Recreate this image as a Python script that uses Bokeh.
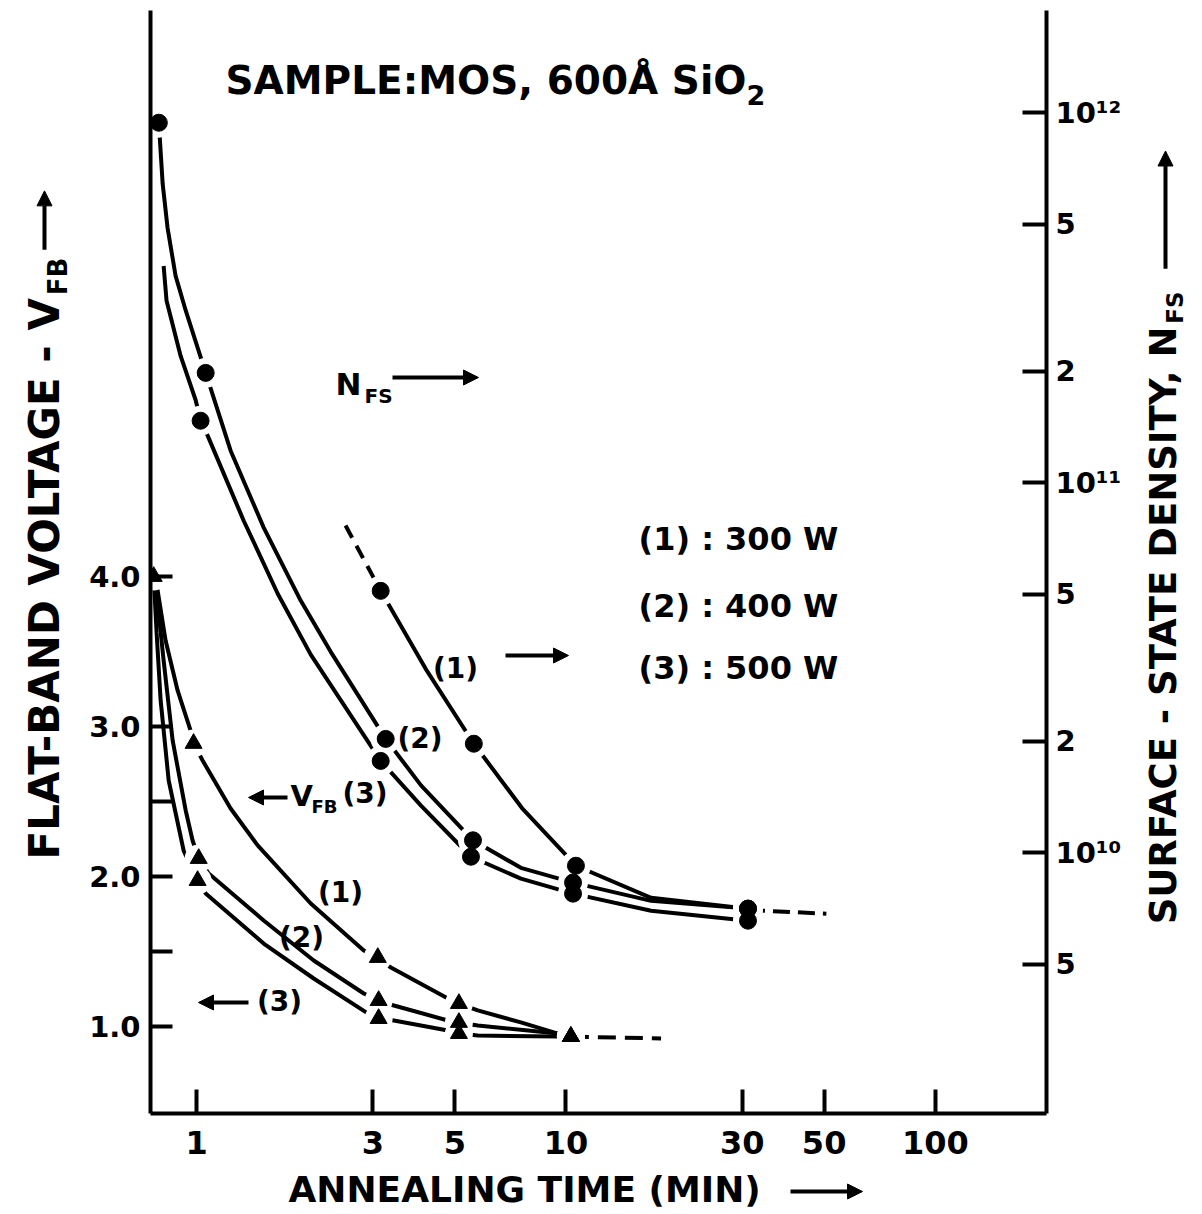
import numpy as np
from bokeh.plotting import figure
from bokeh.layouts import row, column
from bokeh.models import Range1d, LogAxis, FixedTicker, Label, Arrow, NormalHead, LogScale
from bokeh.embed import file_html
from bokeh.resources import INLINE

# ---------------- data ----------------
time_ticks = [1, 3, 5, 10, 30, 50, 100]
time_tick_labels = ["1", "3", "5", "10", "30", "50", "100"]
vfb_ticks = [1.0, 1.5, 2.0, 2.5, 3.0, 4.0]
vfb_tick_labels = ["1.0", "", "2.0", "", "3.0", "4.0"]
nfs_ticks = [5e9, 1e10, 2e10, 5e10, 1e11, 2e11, 5e11, 1e12]
nfs_tick_labels = ["5", "10¹⁰", "2", "5", "10¹¹", "2", "5", "10¹²"]

# surface-state density, measured points (circles)
nfs1_t = [3.15, 5.63, 10.64, 31.1]
nfs1_n = [5.10e10, 1.97e10, 9.22e9, 7.06e9]
nfs2_t = [0.79, 1.058, 3.25, 5.60, 10.45, 31.1]
nfs2_n = [9.39e11, 1.98e11, 2.03e10, 1.08e10, 8.30e9, 7.06e9]
nfs3_t = [1.025, 3.15, 5.53, 10.45, 31.1]
nfs3_n = [1.47e11, 1.77e10, 9.75e9, 7.75e9, 6.55e9]

# surface-state density, drawn curves (traced)
nfs1_curve_t = [3.15, 4.17, 5.63, 7.60, 10.64, 17.0, 31.1]
nfs1_curve_n = [5.10e10, 3.14e10, 1.97e10, 1.32e10, 9.22e9, 7.55e9, 7.06e9]
nfs1_dash_t = [2.53, 3.15]
nfs1_dash_n = [7.66e10, 5.10e10]
nfs_tail_t = [31.1, 50.7]
nfs_tail_n = [7.0e9, 6.84e9]
nfs2_curve_t = [0.79, 0.809, 0.834, 0.877, 0.934, 1.058, 1.236, 1.519, 1.913, 2.307,
                3.25, 4.05, 5.60, 7.55, 10.45, 17.0, 31.1]
nfs2_curve_n = [9.39e11, 6.43e11, 4.89e11, 3.62e11, 2.92e11, 1.98e11, 1.22e11, 7.56e10,
                4.80e10, 3.49e10, 2.03e10, 1.52e10, 1.08e10, 9.10e9, 8.30e9, 7.41e9, 7.06e9]
nfs3_curve_t = [0.814, 0.829, 0.905, 0.994, 1.025, 1.071, 1.341, 1.658, 2.037, 3.15,
                4.05, 5.53, 7.55, 10.45, 17.0, 31.1]
nfs3_curve_n = [3.85e11, 3.10e11, 2.20e11, 1.67e11, 1.47e11, 1.34e11, 7.89e10, 5.01e10,
                3.43e10, 1.77e10, 1.34e10, 9.75e9, 8.51e9, 7.75e9, 6.97e9, 6.55e9]

# flat-band voltage, measured points (triangles)
vfb_start_t = [0.765]
vfb_start_v = [4.0]
vfb1_t = [0.981, 3.094, 5.13, 10.31]
vfb1_v = [2.887, 1.46, 1.153, 0.933]
vfb2_t = [1.013, 3.11, 5.13, 10.31]
vfb2_v = [2.12, 1.173, 1.027, 0.933]
vfb3_t = [1.006, 3.11, 5.13, 10.31]
vfb3_v = [1.973, 1.053, 0.953, 0.933]

# flat-band voltage, drawn curves (traced)
vfb1_curve_t = [0.765, 0.784, 0.824, 0.888, 0.963, 0.981, 1.038, 1.236, 1.463, 2.037, 2.835,
                3.094, 3.357, 4.79, 5.13, 5.77, 7.55, 9.51, 10.31]
vfb1_curve_v = [4.0, 3.907, 3.573, 3.24, 2.973, 2.887, 2.773, 2.453, 2.207, 1.82, 1.507,
                1.46, 1.393, 1.187, 1.153, 1.107, 1.027, 0.953, 0.933]
vfb2_curve_t = [0.765, 0.789, 0.814, 0.861, 0.934, 0.975, 1.013, 1.078, 1.519, 2.075, 2.835,
                3.11, 3.42, 4.79, 5.13, 5.77, 9.51, 10.31]
vfb2_curve_v = [4.0, 3.76, 3.44, 2.907, 2.44, 2.24, 2.12, 2.02, 1.707, 1.44, 1.22,
                1.173, 1.14, 1.04, 1.027, 1.007, 0.953, 0.933]
vfb3_curve_t = [0.765, 0.779, 0.799, 0.840, 0.922, 1.006, 1.058, 1.519, 2.075, 2.906,
                3.11, 3.42, 4.79, 5.13, 5.77, 9.51, 10.31]
vfb3_curve_v = [4.0, 3.627, 3.173, 2.64, 2.173, 1.973, 1.887, 1.553, 1.32, 1.087,
                1.053, 1.04, 0.973, 0.953, 0.94, 0.933, 0.933]
vfb_tail_t = [10.31, 18.09]
vfb_tail_v = [0.933, 0.92]

# ---------------- layout ----------------
X0, X1 = 0.75, 200.0
V0, V1 = 0.42, 7.773
N0, N1 = 1.973e9, 1.888e12
FONT = "DejaVu Sans"

LEFT_W, MAIN_W, RIGHT_W = 83, 1047, 64
MAIN_H, BOTTOM_H = 1162, 50

p = figure(width=MAIN_W, height=MAIN_H, x_axis_type="log",
           x_range=Range1d(X0, X1), y_range=Range1d(V0, V1),
           output_backend="svg", toolbar_location=None,
           min_border_left=67, min_border_right=84,
           min_border_top=10, min_border_bottom=MAIN_H - 1113)
p.outline_line_color = None
p.grid.visible = False

p.extra_y_ranges = {"nfs": Range1d(N0, N1)}
p.extra_y_scales = {"nfs": LogScale()}


def style_axis(ax, size, standoff, tick_len):
    ax.axis_line_width = 4
    ax.axis_line_color = "black"
    ax.major_tick_line_width = 4
    ax.major_tick_in = tick_len
    ax.major_tick_out = 0
    ax.minor_tick_line_color = None
    ax.major_label_text_font = FONT
    ax.major_label_text_font_style = "bold"
    ax.major_label_text_font_size = f"{size}px"
    ax.major_label_text_color = "black"
    ax.major_label_standoff = standoff


xa = p.xaxis[0]
xa.ticker = FixedTicker(ticks=time_ticks)
xa.major_label_overrides = {t: l for t, l in zip(time_ticks, time_tick_labels)}
style_axis(xa, 32, 17, 24)

ya = p.yaxis[0]
ya.ticker = FixedTicker(ticks=vfb_ticks)
ya.major_label_overrides = {t: l for t, l in zip(vfb_ticks, vfb_tick_labels)}
style_axis(ya, 29, 10, 22)

ra = LogAxis(y_range_name="nfs", ticker=FixedTicker(ticks=nfs_ticks))
ra.major_label_overrides = {t: l for t, l in zip(nfs_ticks, nfs_tick_labels)}
style_axis(ra, 29, 9, 24)
p.add_layout(ra, "right")

# ---------------- curves ----------------
LW = 4
p.line(nfs2_curve_t, nfs2_curve_n, y_range_name="nfs", line_width=LW, color="black")
p.line(nfs3_curve_t, nfs3_curve_n, y_range_name="nfs", line_width=LW, color="black")
p.line(nfs1_curve_t, nfs1_curve_n, y_range_name="nfs", line_width=LW, color="black")
p.line(nfs1_dash_t, nfs1_dash_n, y_range_name="nfs", line_width=LW, color="black",
       line_dash="14 9")
p.line(nfs_tail_t, nfs_tail_n, y_range_name="nfs", line_width=LW, color="black",
       line_dash="17 8")

p.line(vfb1_curve_t, vfb1_curve_v, line_width=LW, color="black")
p.line(vfb2_curve_t, vfb2_curve_v, line_width=LW, color="black")
p.line(vfb3_curve_t, vfb3_curve_v, line_width=LW, color="black")
p.line(vfb_tail_t, vfb_tail_v, line_width=LW, color="black", line_dash="18 9")

# white halos to break the lines around markers
all_nfs_t = nfs1_t + nfs2_t + nfs3_t
all_nfs_n = nfs1_n + nfs2_n + nfs3_n
all_vfb_t = vfb_start_t + vfb1_t + vfb2_t + vfb3_t
all_vfb_v = vfb_start_v + vfb1_v + vfb2_v + vfb3_v
p.scatter(all_nfs_t, all_nfs_n, y_range_name="nfs", marker="circle", size=30,
          fill_color="white", line_color=None)
p.scatter(all_vfb_t, all_vfb_v, marker="circle", size=28,
          fill_color="white", line_color=None)

# markers
p.scatter(all_nfs_t, all_nfs_n, y_range_name="nfs", marker="circle", size=17,
          fill_color="black", line_color="black")
p.scatter(all_vfb_t, all_vfb_v, marker="triangle", size=17,
          fill_color="black", line_color="black")


# ---------------- texts & arrows inside the plot ----------------
def tx(px):
    return 10 ** (np.log10(X0) + (px - 150) / 896 * np.log10(X1 / X0))


def vy(py):
    return V0 + (1113 - py) / 1103 * (V1 - V0)


def mk_label(fig, text, x, y, size, align="left", baseline="middle", angle=0.0):
    fig.add_layout(Label(x=x, y=y, text=text, text_font=FONT,
                         text_font_style="bold", text_font_size=f"{size}px",
                         text_align=align, text_baseline=baseline, angle=angle,
                         text_color="black"))


def mk_arrow(fig, x0, y0, x1, y1, head=15):
    fig.add_layout(Arrow(end=NormalHead(size=head, fill_color="black", line_color="black"),
                         x_start=x0, y_start=y0, x_end=x1, y_end=y1,
                         line_width=4, line_color="black"))


def lab(text, px, py, size, align="left"):
    mk_label(p, text, tx(px), vy(py), size, align=align)


def arrow(px0, py0, px1, py1):
    mk_arrow(p, tx(px0), vy(py0), tx(px1), vy(py1))


lab("SAMPLE:MOS, 600Å SiO", 225, 80, 39, align="left")
lab("2", 746, 94, 27)

lab("N", 335, 383, 31)
lab("FS", 364, 395, 20)
arrow(392, 377, 478, 377)

lab("(1) : 300  W", 638, 538, 32)
lab("(2) : 400  W", 638, 605, 32)
lab("(3) : 500  W", 638, 667, 32)

lab("(1)", 455, 668, 28, align="center")
arrow(505, 655, 568, 655)
lab("(2)", 397, 738, 28)

arrow(287, 797, 248, 797)
lab("V", 290, 795, 29)
lab("FB", 311, 806, 18)
lab("(3)", 342, 793, 28)

lab("(1)", 340, 892, 28, align="center")
lab("(2)", 301, 937, 28, align="center")
arrow(248, 1002, 198, 1002)
lab("(3)", 279, 1001, 28, align="center")


# ---------------- axis title strips ----------------
def strip(w, h):
    f = figure(width=w, height=h, x_range=Range1d(0, w), y_range=Range1d(0, h),
               output_backend="svg", toolbar_location=None,
               x_axis_location=None, y_axis_location=None, min_border=0)
    f.min_border_left = f.min_border_right = f.min_border_top = f.min_border_bottom = 0
    f.outline_line_color = None
    f.grid.visible = False
    return f


# left strip: page x 0..83, page y 0..MAIN_H
left = strip(LEFT_W, MAIN_H)
mk_label(left, "FLAT-BAND VOLTAGE - V", 44, MAIN_H - 303, 42, align="right", angle=np.pi / 2)
mk_label(left, "FB", 57, MAIN_H - 300, 26, align="left", angle=np.pi / 2)
mk_arrow(left, 44, MAIN_H - 252, 44, MAIN_H - 190)

# right strip: page x 1130..1194
right = strip(RIGHT_W, MAIN_H)
rx = 1130
mk_label(right, "SURFACE - STATE DENSITY, N", 1163 - rx, MAIN_H - 333, 37,
         align="right", angle=np.pi / 2)
mk_label(right, "FS", 1174 - rx, MAIN_H - 330, 23, align="left", angle=np.pi / 2)
mk_arrow(right, 1165 - rx, MAIN_H - 272, 1165 - rx, MAIN_H - 148)

# bottom strip: page y MAIN_H..MAIN_H+BOTTOM_H
bottom = strip(LEFT_W + MAIN_W + RIGHT_W, BOTTOM_H)
by = MAIN_H + BOTTOM_H
mk_label(bottom, "ANNEALING TIME (MIN)", 288, by - 1189, 36, align="left")
mk_arrow(bottom, 790, by - 1191, 862, by - 1191)

layout = column(row(left, p, right, spacing=0), bottom, spacing=0)

open("out.html", "w").write(file_html(layout, INLINE))
